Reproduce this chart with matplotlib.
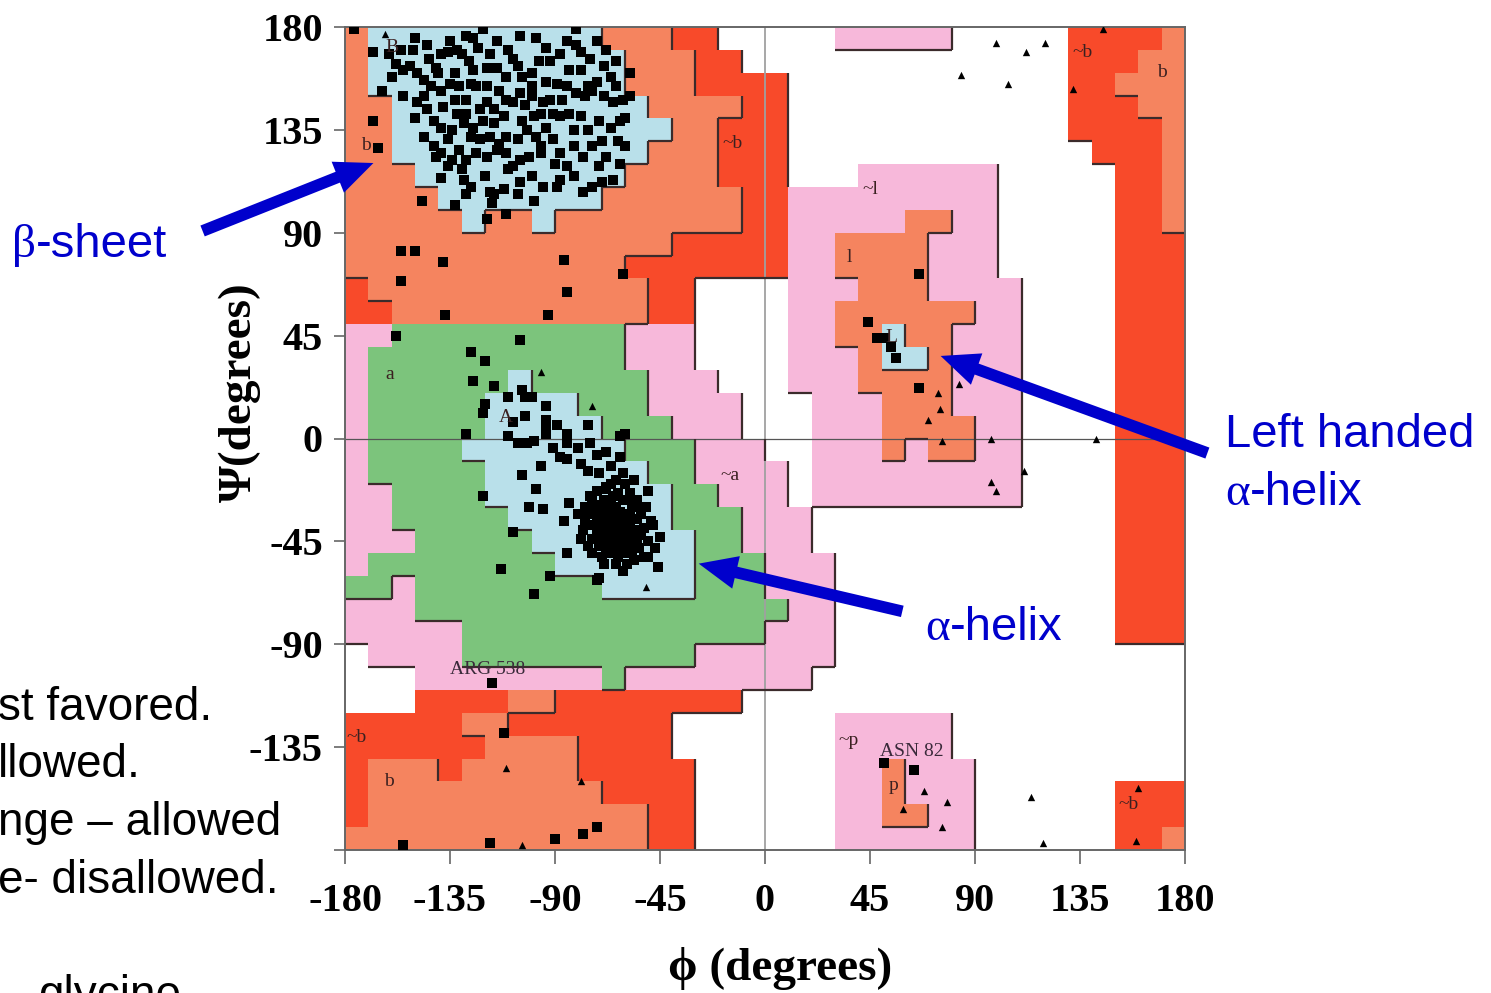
import numpy as np
import matplotlib.pyplot as plt
from matplotlib.colors import ListedColormap
from matplotlib.collections import LineCollection
from matplotlib.patches import FancyArrowPatch

# region map, 10 degree cells: rows go from psi=180 (top) down to psi=-180,
# columns from phi=-180 to 180.  W white, C core, G alpha allowed,
# S beta/l/p allowed, P generous (pink), R generous ~b (red)
region_rows = [
    "S" + "C"*10 + "SSS" + "RR" + "W"*5 + "P"*5 + "W"*5 + "RRRR" + "S",
    "S" + "C"*11 + "SSS" + "RR" + "W"*14 + "RRR" + "SS",
    "S" + "C"*11 + "SSS" + "RRRR" + "W"*12 + "RR" + "SSS",
    "SS" + "C"*11 + "SSSS" + "RR" + "W"*12 + "RRR" + "SS",
    "SS" + "C"*12 + "SS" + "RRR" + "W"*12 + "RRRR" + "S",
    "SS" + "C"*11 + "SSS" + "RRR" + "W"*13 + "RRR" + "S",
    "SSS" + "C"*9 + "SSSS" + "RRR" + "WWW" + "P"*6 + "W"*5 + "RR" + "S",
    "SSSS" + "C"*7 + "S"*6 + "RR" + "P"*9 + "W"*5 + "RR" + "S",
    "S"*5 + "C" + "SS" + "C" + "S"*8 + "RR" + "P"*5 + "SS" + "PP" + "W"*5 + "RR" + "S",
    "S"*14 + "R"*5 + "PP" + "SSSS" + "PPP" + "W"*5 + "RRR",
    "S"*12 + "R"*7 + "PP" + "SSSS" + "PPP" + "W"*5 + "RRR",
    "R" + "S"*12 + "RR" + "WWWW" + "PPP" + "SSS" + "PPPP" + "WWWW" + "RRR",
    "RR" + "S"*11 + "RR" + "WWWW" + "PP" + "S"*6 + "PP" + "WWWW" + "RRR",
    "PP" + "G"*10 + "PPP" + "WWWW" + "PP" + "SS" + "C" + "SS" + "PPP" + "WWWW" + "RRR",
    "P" + "G"*11 + "PPP" + "WWWW" + "PPP" + "S" + "CC" + "S" + "PPP" + "WWWW" + "RRR",
    "P" + "G"*6 + "C" + "G"*5 + "PPP" + "WWW" + "PPP" + "SSSS" + "PPP" + "WWWW" + "RRR",
    "P" + "G"*5 + "CCCC" + "GGG" + "PPPP" + "WWW" + "PPP" + "SSS" + "PPP" + "WWWW" + "RRR",
    "P" + "G"*5 + "C"*5 + "GGG" + "PPP" + "WWW" + "PPP" + "SSSS" + "PP" + "WWWW" + "RRR",
    "P" + "G"*4 + "C"*7 + "GGG" + "PPP" + "WW" + "PPP" + "S" + "P" + "SS" + "PP" + "WWWW" + "RRR",
    "P" + "G"*5 + "C"*7 + "GG" + "PPPP" + "W" + "P"*9 + "WWWW" + "RRR",
    "PP" + "G"*4 + "C"*8 + "GG" + "PPP" + "W" + "P"*9 + "WWWW" + "RRR",
    "PP" + "G"*5 + "C"*7 + "GGG" + "PPP" + "W"*13 + "RRR",
    "PPP" + "G"*5 + "C"*7 + "GG" + "PPP" + "W"*13 + "RRR",
    "P" + "G"*8 + "C"*6 + "GGG" + "PPP" + "W"*12 + "RRR",
    "GG" + "P" + "G"*8 + "C"*4 + "GGG" + "PPP" + "W"*12 + "RRR",
    "PPP" + "G"*16 + "PP" + "W"*12 + "RRR",
    "P"*5 + "G"*13 + "PPP" + "W"*12 + "RRR",
    "W" + "PPPP" + "G"*10 + "P"*6 + "W"*15,
    "WWW" + "P"*8 + "G" + "P"*8 + "W"*16,
    "WWW" + "RRRR" + "SS" + "R"*8 + "W"*19,
    "R"*5 + "SS" + "R"*7 + "W"*7 + "P"*5 + "W"*10,
    "R"*6 + "SSSS" + "RRRR" + "W"*7 + "P"*5 + "W"*10,
    "R" + "SSS" + "R" + "S"*5 + "R"*5 + "W"*6 + "PP" + "S" + "PPP" + "W"*9,
    "R" + "S"*10 + "RRRR" + "W"*6 + "PP" + "S" + "PPP" + "W"*6 + "RRR",
    "R" + "S"*12 + "RR" + "W"*6 + "PP" + "SS" + "PP" + "W"*6 + "RRR",
    "S"*13 + "RR" + "W"*6 + "P"*6 + "W"*6 + "RR" + "S",
]
region_codes = "WCGSPR"
region_colors = ["#ffffff", "#b9e0ea", "#7cc47c", "#f5845f", "#f7b8da", "#f84a2a"]
region_level = {"W": 0, "C": 3, "G": 2, "S": 2, "P": 1, "R": 1}

# residues (phi, psi), squares = non-glycine, triangles = glycine
sq_phi = [-176, -121, -81, -168, -161, -156, -151, -158, -155, -149, -144, -139, -135, -136,
          -132, -130, -127, -125, -119, -115, -106, -104, -111, -94, -85, -81, -79, -72, -75,
          -69, -66, -64, -61, -72, -76, -84, -79, -94, -89, -85, -81, -77, -74, -69, -65, -62,
          -66, -71, -76, -79, -84, -88, -94, -98, -96, -91, -88, -82, -78, -74, -68, -71, -65,
          -74, -85, -88, -89, -105, -108, -111, -112, -116, -121, -122, -119, -124, -119, -126,
          -131, -135, -139, -143, -146, -149, -145, -142, -139, -146, -142, -136, -134, -129,
          -128, -132, -125, -126, -122, -118, -114, -111, -106, -104, -102, -99, -95, -92, -91,
          -96, -101, -105, -108, -111, -115, -119, -124, -128, -131, -134, -136, -139, -141,
          -139, -129, -126, -128, -116, -112, -106, -99, -117, -119, -111, -133, -147, -168,
          -166, -164, -100, -97, -110, -125, -140, -63, -70, -58, -60,
          -150, -145, -128, -115, -105, -98, -92, -88, -100, -108, -118, -123, -141, -146,
          -152, -160, -133, -128, -114, -100, -96, -103, -116, -133, -138, -150, -155, -130,
          -120, -110, -100, -95, -82, -78, -70, -62, -60, -58, -64, -68, -87, -82, -90, -105,
          -118,
          -156, -150, -138, -156, -86, -85, -61,
          -158, -137, -93, -105, -126, -120, -125, -116, -120, -121, -110, -104, -103, -100,
          -94, -103, -108, -94, -94, -89, -85, -76, -94, -91, -85, -80, -75, -72, -68, -62,
          -128, -110, -106, -102, -99, -88, -85, -79, -76, -71, -66, -62, -96, -104, -98, -121,
          -101, -95, -84, -86, -108, -85, -113, -92, -71, -79, -74, -68, -64,
          -60, -61, -56, -50, -54, -49, -45, -50, -46, -59, -56, -61,
          -70, -68, -66, -64, -62, -60, -72, -74, -70, -68, -66, -64, -62, -60, -58, -56, -66,
          -64, -62, -60, -58, -72, -70, -68, -75, -77, -78, -74, -63, -60, -58, -55, -54, -67,
          -65, -63, -61, -69, -71, -73, -65, -61, -57, -67, -70, -64, -59, -76, -79, -80, -62,
          -66, -70, -57, -52, -50, -53, -75, -68,
          -73, -71, -65, -69, -63, -58, -55, -51, -48, -47, -52, -56, -61, -69, -74, -77, -72,
          -66, -60, -55, -53, -59, -64, -67, -57,
          44, 48, 51, 54, 56, 66, 66,
          64, 51, -99, -117, -112, -155, -118, -90, -78, -72, -72]
sq_psi = [179, 179, 179, 169, 168, 170, 170, 164, 161, 160, 166, 168, 174, 169,
          170, 168, 165, 161, 162, 162, 163, 158, 158, 171, 174, 172, 169, 174, 166,
          163, 158, 154, 148, 156, 154, 161, 161, 156, 155, 154, 151, 150, 152, 150, 147, 139,
          136, 139, 135, 141, 142, 141, 136, 132, 128, 131, 125, 128, 123, 128, 123, 119, 113,
          110, 119, 113, 110, 151, 147, 148, 141, 138, 139, 144, 147, 154, 154, 155,
          154, 155, 152, 154, 150, 147, 144, 139, 136, 132, 128, 131, 135, 138,
          142, 142, 136, 132, 131, 132, 129, 132, 131, 139, 135, 141, 147, 148, 142,
          125, 123, 122, 119, 125, 126, 123, 125, 122, 126, 122, 119, 125, 123,
          114, 113, 110, 107, 107, 109, 107, 104, 103, 96, 98, 102, 104, 139,
          127, 152, 150, 165, 170, 175, 160, 130, 130, 160, 140,
          175, 172, 176, 174, 176, 175, 165, 168, 160, 166, 168, 171, 162, 157,
          163, 158, 160, 148, 152, 154, 142, 146, 144, 148, 145, 140, 150, 118,
          115, 118, 115, 110, 115, 108, 112, 120, 128, 150, 165, 170, 148, 135, 120, 112,
          108,
          82, 82, 77, 69, 78, 64, 72,
          45, 54, 54, 43, 38, 34, 25, 23, 15, 11, 18, 21, 18, 18,
          14, 10, 7, 8, 5, 6, 2, 6, 2, -4, -2, -4, -2, -7, -6, 1,
          2, 1, -2, -2, -1, -8, -9, -11, -14, -15, -12, -8, -12, -16, -22, -25,
          -30, -31, -28, -36, -41, -50, -57, -60, -61, -33, -27, -21, -18,
          2, -15, -18, -23, -30, -36, -43, -52, -56, -27, -42, -47,
          -30, -33, -35, -37, -40, -42, -35, -38, -40, -42, -44, -46, -48, -36, -38, -40, -28,
          -30, -32, -33, -34, -42, -45, -48, -32, -36, -40, -44, -52, -50, -46, -44, -48, -38,
          -40, -42, -44, -36, -33, -29, -25, -27, -30, -50, -52, -55, -55, -47, -44, -33, -36,
          -32, -38, -42, -39, -45, -33, -25, -22,
          -33, -47, -48, -27, -24, -24, -27, -30, -38, -48, -52, -53, -58, -55, -50, -30, -23,
          -20, -20, -35, -42, -40, -43, -46, -49,
          51, 44, 44, 40, 35, 22, 72,
          -145, -142, -68, -107, -129, -178, -177, -175, -173, -170, -62]
tri_phi = [-163, -96, -74, -51, 74, 75, 70, 76, 97, 142, 111, 97, 99, 83,
           99, 112, 120, 84, 104, 145, 132, 160, 159, 114, 119, 68, 78, 76, 59,
           -111, -79, -104]
tri_psi = [177, 29, 14, -65, 20, 13, 8, -1, 0, 0, -14, -19, -23, 24,
           173, 169, 173, 159, 155, 179, 153, -153, -176, -157, -177, -154, -159, -170, -162,
           -144, -150, -178]

region_labels = ["B", "b", "~b", "~l", "l", "L", "a", "A", "~a", "~b", "b", "~p", "p",
                 "~b", "~b", "b"]
label_phi = [-160, -171, -14, 45, 36, 54, -161, -111, -15, -175, -161, 36, 55, 156, 136, 170]
label_psi = [171, 128, 129, 109, 79, 44, 28, 9, -16, -131, -150, -132, -152, -160, 169, 160]

W, H = 1491, 993
fig = plt.figure(figsize=(W / 100, H / 100), dpi=100)
ax = fig.add_axes([345 / W, 1 - 850 / H, 840 / W, 823 / H])

grid = np.array([[region_codes.index(c) for c in row] for row in region_rows])
edges = np.arange(-180, 181, 10)
ax.pcolormesh(edges, edges, grid[::-1], cmap=ListedColormap(region_colors),
              vmin=-0.5, vmax=len(region_codes) - 0.5, zorder=0)

# dark edge lines on the right / lower side of higher level regions
segs = []
for j, row in enumerate(region_rows):
    top = 180 - 10 * j
    for i, c in enumerate(row):
        left = -180 + 10 * i
        if i < 35 and region_level[c] > region_level[row[i + 1]]:
            segs.append([(left + 10, top), (left + 10, top - 10)])
        if j < 35 and region_level[c] > region_level[region_rows[j + 1][i]]:
            segs.append([(left, top - 10), (left + 10, top - 10)])
ax.add_collection(LineCollection(segs, colors="#3b2b2b", linewidths=1.6, zorder=2))

ax.axvline(0, color="#a0a0a0", lw=1.3, zorder=1)
ax.axhline(0, color="#555555", lw=0.9, zorder=1)

ax.scatter(sq_phi, sq_psi, marker="s", s=50, c="black", linewidths=0, zorder=4)
ax.scatter(tri_phi, tri_psi, marker="^", s=28, c="black", linewidths=0, zorder=4)

for t, x, y in zip(region_labels, label_phi, label_psi):
    ax.text(x, y, t, fontsize=14, family="Liberation Serif", color="#3a2020",
            ha="center", va="center", zorder=5)
ax.text(-119, -101, "ARG 538", fontsize=14, family="Liberation Serif", color="#3a2a3a",
        ha="center", va="center", zorder=5)
ax.text(63, -137, "ASN 82", fontsize=14, family="Liberation Serif", color="#3a2a3a",
        ha="center", va="center", zorder=5)

ax.set_xlim(-180, 180)
ax.set_ylim(-180, 180)
ticks = list(range(-180, 181, 45))
ax.set_xticks(ticks)
ax.set_yticks(ticks)
ax.set_xticklabels([str(t) for t in ticks])
ax.set_yticklabels(["" if t == -180 else str(t) for t in ticks])
for lab in ax.get_xticklabels() + ax.get_yticklabels():
    lab.set_fontfamily("Liberation Serif")
    lab.set_fontweight("bold")
    lab.set_fontsize(29)
ax.tick_params(axis="x", direction="out", length=10, width=1.2, color="#666666", pad=14)
ax.tick_params(axis="y", direction="out", length=8, width=1.2, color="#666666", pad=8)
for s in ax.spines.values():
    s.set_color("#666666")
    s.set_linewidth(1.4)


def px(x, y):
    return (x / W, 1 - y / H)


serif = ["Liberation Serif", "DejaVu Serif"]
sans = ["Liberation Sans", "DejaVu Sans"]
fig.text(*px(780, 968), "\u03d5 (degrees)", fontsize=34, fontweight="bold", family=serif,
         ha="center", va="center")
fig.text(*px(240, 392), "\u03a8(degrees)", fontsize=34, fontweight="bold", family=serif,
         ha="center", va="center", rotation=90)

blue = "#0000cc"
renderer = fig.canvas.get_renderer()


def greek_label(x, y, greek, rest):
    # greek letter in a serif face, the rest in sans, as on the slide
    t = fig.text(*px(x, y), greek, fontsize=34, color=blue, family=serif, va="baseline")
    w = t.get_window_extent(renderer=renderer).width
    fig.text(*px(x + w, y), rest, fontsize=34, color=blue, family=sans, va="baseline")


greek_label(12, 257, "\u03b2", "-sheet")
fig.text(*px(1225, 447), "Left handed", fontsize=34, color=blue, family=sans, va="baseline")
greek_label(1225, 505, "\u03b1", "-helix")
greek_label(925, 640, "\u03b1", "-helix")

for a, b in [((200, 232), (376, 162)), ((1210, 454), (938, 355)), ((905, 612), (696, 563))]:
    fig.add_artist(FancyArrowPatch(px(*a), px(*b), transform=fig.transFigure,
                                   arrowstyle="simple,head_width=2.0,head_length=2.3,tail_width=0.7",
                                   mutation_scale=12, color=blue, lw=0, zorder=10))

# left-hand text, cut off by the slide edge
for y, t in [(720, "st favored."), (777, "llowed."), (835, "nge \u2013 allowed"),
             (893, "e- disallowed."), (1008, "glycine")]:
    fig.text(*px(-2 if t != "glycine" else 38, y), t, fontsize=33, family=sans,
             va="baseline", color="black")

fig.savefig("out.png", dpi=100)
